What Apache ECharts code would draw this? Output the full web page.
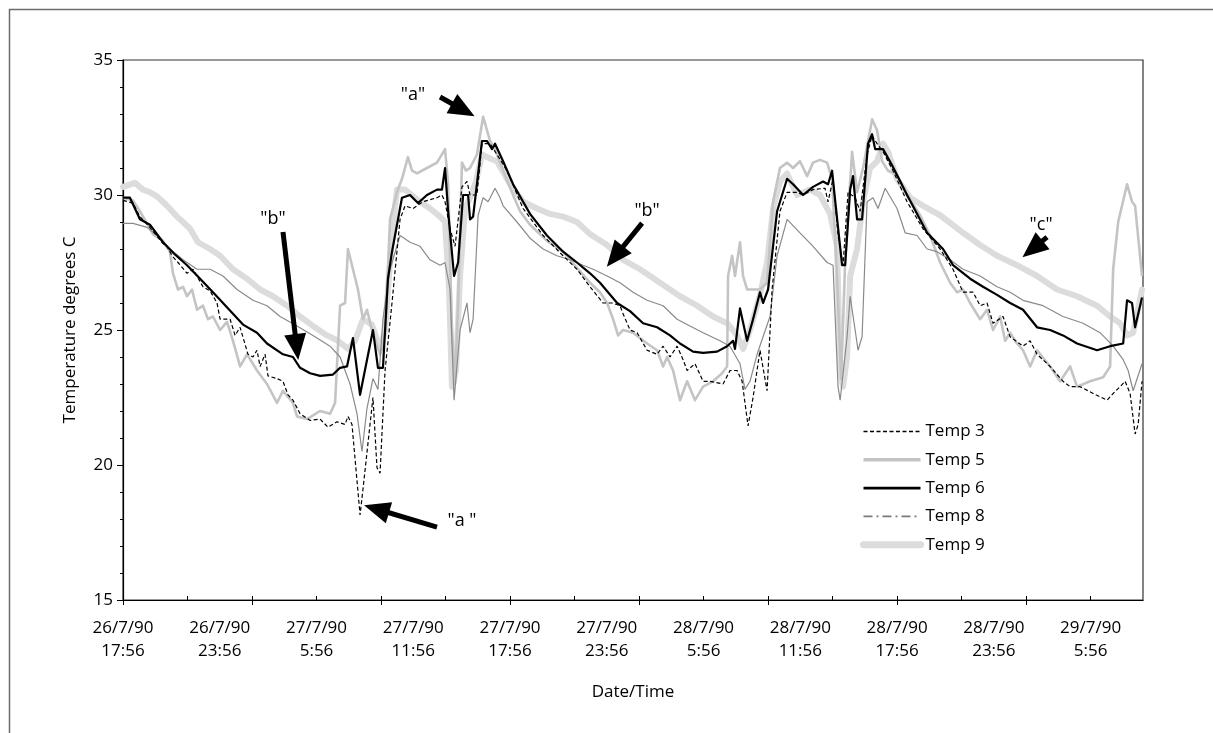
<!DOCTYPE html>
<html>
<head>
<meta charset="utf-8">
<script src="https://cdn.jsdelivr.net/npm/echarts@6/dist/echarts.min.js"></script>
<style>
  html, body { margin: 0; padding: 0; background: #fff; }
  #chart { width: 1213px; height: 733px; }
</style>
</head>
<body>
<div id="chart"></div>
<script>
// x = hours since 26/7/90 17:56, y = degrees C
let tickLabels = ['26/7/90\n17:56', '26/7/90\n23:56', '27/7/90\n5:56', '27/7/90\n11:56', '27/7/90\n17:56',
  '27/7/90\n23:56', '28/7/90\n5:56', '28/7/90\n11:56', '28/7/90\n17:56', '28/7/90\n23:56', '29/7/90\n5:56'];

let temp3 = [[0,29.8],[0.62,29.7],[1.05,29.2],[1.67,28.8],[2.48,28.2],[2.73,28.1],[3.04,27.75],[3.41,27.5],[3.97,27.1],[4.34,27.25],
  [4.96,26.6],[5.4,26.45],[5.83,26.0],[6.02,25.4],[6.64,25.4],[6.95,24.8],[7.26,25.1],[7.75,24.1],[8.06,24.0],[8.31,24.25],
  [8.5,23.65],[8.81,24.1],[8.99,23.3],[9.55,23.2],[9.92,23.1],[10.23,22.6],[10.54,22.4],[10.98,21.9],[11.6,21.65],[12.22,21.7],
  [12.71,21.4],[13.27,21.6],[13.77,21.5],[13.95,21.8],[14.2,21.5],[14.7,18.15],[14.88,19.1],[15.5,22.5],[15.75,19.9],[15.94,19.7],
  [16.25,23.5],[16.68,26.0],[17.18,29.1],[17.49,29.6],[17.98,29.5],[18.6,29.75],[19.47,29.9],[19.78,30.0],[19.97,29.75],[20.28,28.75],
  [20.59,28.1],[21.02,30.3],[21.33,30.5],[21.52,30.0],[21.95,30.0],[22.26,31.9],[22.76,31.9],[23.19,31.5],[23.81,30.9],[24.81,29.5],
  [26.05,28.5],[27.29,27.75],[28.15,27.25],[28.96,26.6],[29.77,26.0],[30.33,26.0],[30.82,25.9],[31.01,25.6],[31.44,25.0],[31.88,24.9],
  [32.5,24.25],[33.12,24.1],[33.49,24.4],[33.92,24.0],[34.36,24.4],[34.73,23.9],[34.98,23.5],[35.47,23.75],[35.97,23.1],[36.4,23.1],
  [37.21,23.0],[37.64,23.5],[38.08,23.5],[38.39,23.1],[38.76,21.45],[39.07,22.5],[39.5,24.25],[39.94,22.75],[40.25,26.5],[40.74,29.4],
  [41.18,30.1],[41.8,30.1],[42.17,30.0],[42.79,30.2],[43.53,30.25],[43.72,29.75],[44.03,30.6],[44.34,28.5],[44.65,27.4],[44.96,30.1],
  [45.4,29.9],[45.71,29.4],[46.14,31.5],[46.45,32.2],[46.76,31.9],[47.13,31.6],[47.75,30.9],[48.62,29.75],[49.61,28.75],[50.67,28.0],
  [51.47,27.25],[52.09,26.4],[52.71,26.4],[53.15,25.9],[53.58,26.0],[53.95,25.25],[54.57,25.5],[55.01,24.75],[55.81,24.4],[56.25,24.6],
  [56.68,24.1],[57.49,23.65],[58.29,23.1],[58.73,22.9],[59.35,22.9],[60.16,22.65],[61.02,22.4],[61.4,22.65],[61.83,22.9],[62.14,23.1],
  [62.45,22.65],[62.76,21.15],[62.95,21.5],[63.19,23.1]];

let temp5 = [[0,29.9],[0.62,29.8],[1.05,29.4],[1.86,28.55],[2.48,28.3],[2.91,27.9],[3.1,27.1],[3.41,26.5],[3.72,26.6],[3.97,26.25],
  [4.28,26.5],[4.59,25.75],[4.96,25.9],[5.27,25.4],[5.58,25.5],[6.02,25.0],[6.45,25.3],[6.82,24.6],[7.26,23.65],[7.69,24.1],
  [8.31,23.5],[8.93,23.0],[9.55,22.3],[9.92,22.75],[10.54,22.3],[10.79,21.8],[11.41,21.7],[12.22,22.0],[12.84,21.9],[13.15,22.3],
  [13.46,25.9],[13.77,26.0],[13.95,28.0],[14.26,27.25],[14.57,26.5],[14.88,25.4],[15.13,25.75],[15.44,25.0],[15.94,24.1],[16.25,24.8],
  [16.56,29.1],[16.99,30.1],[17.3,30.6],[17.67,31.4],[17.92,30.9],[18.23,30.8],[18.85,31.0],[19.47,31.2],[19.97,31.7],[20.16,30.4],
  [20.4,25.0],[20.59,23.0],[20.78,26.0],[21.02,31.2],[21.27,30.9],[21.52,31.0],[21.95,31.5],[22.33,32.9],[22.76,32.0],[23.07,31.7],
  [23.57,30.9],[24.19,30.0],[24.62,29.4],[25.24,28.9],[26.29,28.3],[27.29,27.9],[28.15,27.3],[28.96,26.75],[29.58,26.4],[30.02,26.0],
  [30.39,25.4],[30.7,24.8],[31.01,25.0],[31.63,24.9],[32.5,24.5],[33.12,24.25],[33.49,23.65],[33.74,24.0],[34.11,23.5],[34.54,22.4],
  [34.98,23.1],[35.47,22.4],[35.97,22.9],[36.59,23.1],[37.15,23.4],[37.46,23.65],[37.52,27.0],[37.77,27.75],[37.95,27.0],[38.26,28.25],
  [38.45,27.0],[38.7,26.5],[39.5,26.5],[39.94,26.75],[40.31,29.75],[40.74,31.0],[41.18,31.2],[41.55,31.0],[41.98,31.25],[42.42,30.7],
  [42.79,31.2],[43.22,31.3],[43.66,31.2],[43.97,30.6],[44.28,27.0],[44.53,23.2],[44.78,27.5],[45.21,31.6],[45.52,30.1],[45.89,31.0],
  [46.45,32.8],[46.76,32.4],[47.07,31.25],[47.44,30.9],[48.0,30.75],[48.62,30.0],[49.43,29.25],[50.05,28.5],[50.67,27.5],[51.29,26.75],
  [51.72,26.4],[52.09,26.5],[52.53,26.0],[53.15,25.4],[53.58,25.75],[53.95,25.0],[54.39,25.5],[54.7,24.6],[55.01,24.9],[55.44,24.5],
  [55.81,24.25],[56.25,23.65],[56.68,24.25],[57.49,23.65],[58.11,23.1],[58.73,23.65],[59.16,22.9],[59.97,23.1],[60.78,23.25],[61.21,23.65],
  [61.4,27.25],[61.71,29.0],[62.26,30.4],[62.57,29.75],[62.76,29.6],[63.19,27.0]];

let temp6 = [[0,29.9],[0.43,29.9],[1.05,29.1],[1.67,28.9],[2.48,28.25],[3.22,27.8],[3.97,27.4],[4.78,26.9],[5.58,26.4],[6.82,25.6],
  [7.44,25.2],[8.31,24.9],[8.93,24.5],[9.92,24.1],[10.54,24.0],[10.98,23.6],[11.6,23.4],[12.22,23.3],[13.02,23.35],[13.46,23.6],
  [13.89,23.65],[14.26,24.7],[14.7,22.6],[15.5,25.0],[15.81,23.6],[16.12,23.6],[16.43,26.9],[16.68,27.9],[17.3,29.9],[17.8,30.0],
  [18.29,29.7],[18.85,30.0],[19.47,30.2],[19.78,30.2],[19.97,31.0],[20.16,29.4],[20.53,27.0],[20.78,27.5],[21.09,30.0],[21.4,30.0],
  [21.52,29.1],[21.71,29.2],[22.26,32.0],[22.57,32.0],[22.88,31.7],[23.07,31.9],[23.57,31.25],[24.19,30.4],[25.24,29.3],[26.29,28.5],
  [27.29,27.9],[28.15,27.5],[28.96,27.1],[29.58,26.75],[30.64,26.0],[31.44,25.7],[32.25,25.25],[33.12,25.1],[33.92,24.8],[34.54,24.5],
  [35.35,24.2],[35.97,24.15],[36.84,24.2],[37.46,24.4],[37.83,24.6],[37.95,24.3],[38.26,25.8],[38.7,24.6],[39.07,25.4],[39.5,26.4],
  [39.69,26.0],[40.0,26.5],[40.56,29.4],[41.18,30.6],[41.55,30.4],[41.86,30.2],[42.17,30.0],[42.79,30.3],[43.41,30.5],[43.72,30.4],
  [43.97,30.9],[44.16,29.8],[44.59,27.4],[44.78,27.4],[45.09,30.2],[45.27,30.7],[45.52,29.1],[45.83,29.1],[46.2,31.9],[46.45,32.25],
  [46.64,31.7],[47.13,31.7],[47.69,31.1],[48.62,30.0],[49.86,28.6],[50.85,28.0],[51.47,27.4],[52.53,26.9],[53.33,26.6],[54.2,26.3],
  [55.01,26.0],[55.81,25.75],[56.68,25.1],[57.49,25.0],[58.29,24.8],[59.16,24.5],[60.4,24.25],[61.21,24.4],[62.02,24.5],[62.26,26.1],
  [62.57,26.0],[62.76,25.1],[63.19,26.2]];

let temp8 = [[0,28.95],[0.62,28.95],[1.49,28.8],[2.11,28.5],[2.91,28.0],[3.72,27.6],[4.59,27.25],[5.4,27.25],[6.2,27.0],[7.07,26.5],
  [8.06,26.1],[8.93,25.9],[9.74,25.5],[10.79,25.15],[11.78,24.8],[12.84,24.4],[13.46,24.0],[14.08,23.0],[14.51,21.9],[14.82,20.5],
  [15.13,22.1],[15.5,23.2],[15.81,22.8],[16.12,25.4],[16.56,27.25],[17.18,28.5],[17.8,28.25],[18.42,28.1],[19.04,27.6],[19.66,27.4],
  [19.97,27.5],[20.28,26.5],[20.53,22.4],[20.9,25.0],[21.33,26.0],[21.52,24.9],[21.71,25.4],[22.02,29.25],[22.33,29.9],[22.64,29.75],
  [23.07,30.25],[23.38,29.9],[23.57,29.6],[24.43,29.0],[25.24,28.4],[26.05,28.0],[26.91,27.75],[27.72,27.6],[28.53,27.4],[29.15,27.25],
  [30.02,27.0],[30.82,26.75],[31.63,26.4],[32.5,26.1],[33.49,25.9],[34.36,25.4],[35.16,25.15],[35.97,24.9],[37.02,24.6],[37.64,24.4],
  [38.26,23.75],[38.57,22.8],[38.88,23.1],[39.32,24.1],[39.69,24.75],[40.12,25.5],[40.56,27.75],[41.18,29.1],[41.98,28.6],[42.79,28.1],
  [43.66,27.5],[44.03,27.4],[44.34,22.9],[44.47,22.4],[44.9,24.75],[45.09,26.25],[45.4,25.0],[45.58,24.25],[45.83,24.75],[46.14,29.75],
  [46.51,29.9],[46.82,29.5],[47.26,30.25],[48.0,29.5],[48.5,28.6],[49.24,28.5],[49.86,28.0],[50.48,27.9],[51.29,27.6],[52.09,27.25],
  [53.15,27.0],[54.2,26.6],[55.01,26.4],[55.81,26.1],[57.05,25.9],[58.29,25.5],[59.53,25.25],[60.59,24.9],[61.4,24.4],[62.02,23.9],
  [62.33,23.5],[62.64,22.75],[63.19,23.75]];

let temp9 = [[0,30.3],[0.74,30.45],[1.24,30.2],[1.67,30.1],[2.11,29.95],[2.73,29.6],[3.35,29.2],[3.72,29.0],[4.16,28.75],[4.65,28.25],
  [5.4,28.0],[6.02,27.75],[6.82,27.25],[7.69,26.9],[8.5,26.5],[9.3,26.25],[10.17,25.9],[10.98,25.5],[11.78,25.15],[12.65,24.8],
  [13.33,24.6],[13.95,24.3],[14.39,24.6],[14.88,25.4],[15.44,25.2],[15.94,24.3],[16.25,25.0],[16.68,28.5],[16.99,30.2],[17.49,30.2],
  [18.42,29.75],[19.04,29.5],[19.66,29.2],[19.97,29.0],[20.22,26.5],[20.4,22.9],[20.65,23.5],[20.9,27.0],[21.21,29.5],[21.52,29.9],
  [21.89,30.5],[22.26,31.5],[22.76,31.35],[23.19,31.25],[24.0,30.4],[24.81,29.75],[25.67,29.5],[26.48,29.3],[27.29,29.2],[28.15,29.0],
  [28.96,28.55],[30.02,28.15],[31.01,27.6],[32.06,27.25],[33.3,26.75],[34.54,26.25],[35.6,25.9],[36.59,25.5],[37.46,25.25],[38.08,24.8],
  [38.45,24.3],[38.88,25.0],[39.5,26.3],[39.94,27.5],[40.31,29.5],[40.74,30.5],[41.18,30.8],[41.8,30.0],[42.6,30.2],[43.22,30.0],
  [43.84,29.3],[44.28,28.1],[44.47,23.5],[44.65,22.9],[44.9,24.0],[45.09,27.0],[45.52,28.0],[45.89,29.75],[46.33,31.0],[46.76,31.25],
  [47.13,31.9],[47.44,31.6],[48.0,30.6],[48.81,29.9],[49.61,29.6],[50.67,29.25],[52.09,28.6],[53.15,28.15],[54.2,27.75],[55.44,27.4],
  [56.68,27.0],[57.92,26.5],[59.16,26.25],[60.4,25.9],[61.21,25.5],[61.83,25.25],[62.26,24.8],[62.64,24.9],[63.19,26.5]];

// annotations: text label position, arrow tail, arrow head
let noteText = ['"a"', '"b"', '"a "', '"b"', '"c"'];
let notePos = [[17.98,33.7],[9.3,29.11],[21.02,17.93],[32.5,29.41],[56.93,28.89]];
let arrowFrom = [[19.66,33.63],[9.92,28.63],[19.47,17.7],[32.19,28.96],[57.3,28.44]];
let arrowTo = [[21.1,33.15],[10.77,24.37],[15.72,18.37],[30.51,27.72],[56.4,28.0]];

let font = 'Open Sans';
let fs = 17;
let xMax = 63.25;

let chart = echarts.init(document.getElementById('chart'));

let xBase = {
  type: 'value', min: 0, max: xMax, position: 'bottom',
  splitLine: { show: false }
};

chart.setOption({
  animation: false,
  backgroundColor: '#fff',
  textStyle: { fontFamily: font, color: '#000' },
  grid: { left: 123, right: 70, top: 60, bottom: 133, show: true, borderColor: '#333', borderWidth: 1.2 },
  graphic: [{
    type: 'rect', left: 7, top: 7, silent: true,
    shape: { width: 1240, height: 760 },
    style: { fill: null, stroke: '#6b6b6b', lineWidth: 1.5 }
  }],
  legend: {
    orient: 'vertical', left: 855, top: 418,
    itemWidth: 57, itemHeight: 14, itemGap: 11.3,
    itemStyle: { opacity: 0 },
    textStyle: { fontSize: fs, color: '#000', fontFamily: font },
    data: [
      { name: 'Temp 3', lineStyle: { width: 1.5 } },
      { name: 'Temp 5', lineStyle: { width: 3.5 } },
      { name: 'Temp 6', lineStyle: { width: 2.8 } },
      { name: 'Temp 8', lineStyle: { width: 1.6, color: '#7a7a7a', type: [9, 4, 2, 4] } },
      { name: 'Temp 9', lineStyle: { width: 7, cap: 'round' } }
    ]
  },
  xAxis: [
    Object.assign({}, xBase, {
      name: 'Date/Time', nameLocation: 'middle', nameGap: 84,
      nameTextStyle: { fontSize: fs, color: '#000', fontFamily: font },
      axisLine: { show: false }, axisTick: { show: false },
      axisLabel: {
        customValues: tickLabels.map((s, i) => i * 6),
        formatter: v => tickLabels[Math.round(v / 6)] || '',
        fontSize: fs, lineHeight: 23, margin: 17, color: '#000', fontFamily: font
      }
    }),
    Object.assign({}, xBase, {
      axisLine: { show: true, lineStyle: { color: '#000', width: 1.2 } },
      axisTick: { show: true, length: 5, customValues: [0, 8, 16, 24, 32, 40, 48, 56], lineStyle: { color: '#000' } },
      axisLabel: { show: false }
    }),
    Object.assign({}, xBase, {
      axisLine: { show: false },
      axisTick: { show: true, inside: true, length: 4, customValues: [0, 4, 8, 12, 16, 20, 24, 28, 32, 36, 40, 44, 48, 52, 56, 60], lineStyle: { color: '#000' } },
      axisLabel: { show: false }
    })
  ],
  yAxis: {
    type: 'value', min: 15, max: 35, interval: 5,
    name: 'Temperature degrees C', nameLocation: 'middle', nameGap: 44,
    nameTextStyle: { fontSize: fs, color: '#000', fontFamily: font },
    axisLine: { show: true, lineStyle: { color: '#000', width: 1.2 } },
    axisTick: { show: true, length: 6, lineStyle: { color: '#000' } },
    minorTick: { show: true, splitNumber: 5, length: 3, lineStyle: { color: '#000' } },
    splitLine: { show: false },
    axisLabel: { fontSize: fs, margin: 10, color: '#000', fontFamily: font }
  },
  series: [
    { name: 'Temp 9', type: 'line', symbol: 'none', data: temp9,
      lineStyle: { color: '#dcdcdc', width: 6, cap: 'round', join: 'round' }, itemStyle: { color: '#dcdcdc' } },
    { name: 'Temp 5', type: 'line', symbol: 'none', data: temp5,
      lineStyle: { color: '#c4c4c4', width: 2.6, join: 'round' }, itemStyle: { color: '#c4c4c4' } },
    { name: 'Temp 8', type: 'line', symbol: 'none', data: temp8,
      lineStyle: { color: '#8a8a8a', width: 1.2 }, itemStyle: { color: '#8a8a8a' } },
    { name: 'Temp 3', type: 'line', symbol: 'none', data: temp3,
      lineStyle: { color: '#000', width: 1.2, type: [4, 2.5] }, itemStyle: { color: '#000' } },
    { name: 'Temp 6', type: 'line', symbol: 'none', data: temp6,
      lineStyle: { color: '#000', width: 2.2, join: 'round' }, itemStyle: { color: '#000' } },
    { name: 'notes', type: 'line', symbol: 'none', data: [], z: 5,
      markLine: {
        silent: true, animation: false,
        lineStyle: { color: '#000', width: 5, type: 'solid' },
        label: { show: false },
        data: arrowFrom.map((p, i) => [
          { coord: p, symbol: 'none' },
          { coord: arrowTo[i], symbol: 'triangle', symbolSize: [22, 26] }
        ])
      },
      markPoint: {
        silent: true, animation: false,
        symbol: 'circle', symbolSize: 1,
        itemStyle: { color: 'rgba(0,0,0,0)' },
        label: { show: true, position: 'inside', formatter: '{b}', color: '#000', fontSize: 18, fontFamily: font },
        data: noteText.map((s, i) => ({ name: s, coord: notePos[i] }))
      }
    }
  ]
});
</script>
</body>
</html>
